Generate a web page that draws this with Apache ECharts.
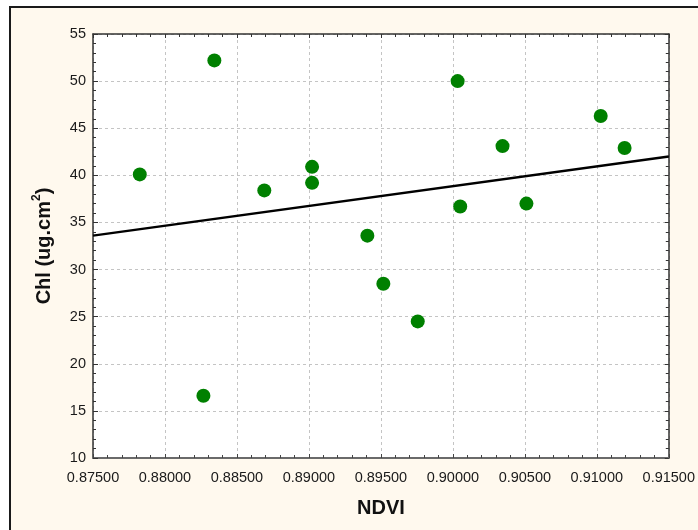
<!DOCTYPE html>
<html>
<head>
<meta charset="utf-8">
<script src="https://cdn.jsdelivr.net/npm/echarts@6/dist/echarts.min.js"></script>
<style>
html,body{margin:0;padding:0;background:#ffffff;}
#chart{width:698px;height:530px;}
</style>
</head>
<body>
<div id="chart"></div>
<script>
// Data
const ndvi = [0.87825, 0.88267, 0.88343, 0.88690, 0.89022, 0.89022, 0.89406, 0.89517, 0.89756, 0.90033, 0.90051, 0.90345, 0.90511, 0.91027, 0.91193];
const chl  = [40.1,    16.6,    52.2,    38.4,    40.9,    39.2,    33.6,    28.5,    24.5,    50.0,    36.7,    43.1,    37.0,    46.3,    42.9];
// Fitted regression line (end points)
const fitX = [0.875, 0.915];
const fitY = [33.6, 42.0];

const xMin = 0.875, xMax = 0.915, xStep = 0.005;
const yMin = 10, yMax = 55, yStep = 5;

const points = ndvi.map((x, i) => [x, chl[i]]);
const fitLine = fitX.map((x, i) => [x, fitY[i]]);

const chart = echarts.init(document.getElementById('chart'), null, {renderer: 'canvas'});
const font = '"Liberation Sans", Arial, sans-serif';
const gridLine = {show: true, lineStyle: {color: '#c4c4c4', width: 1, type: [3, 3]}};

const mirrorX = {
  type: 'value', position: 'top', min: xMin, max: xMax, interval: xStep,
  axisLine: {show: true, onZero: false, lineStyle: {color: '#333', width: 1.5}},
  axisTick: {show: true, inside: true, length: 4, lineStyle: {color: '#333'}},
  minorTick: {show: true, splitNumber: 5, length: 3, lineStyle: {color: '#333'}},
  axisLabel: {show: false}, splitLine: {show: false}
};
const mirrorY = {
  type: 'value', position: 'right', min: yMin, max: yMax, interval: yStep,
  axisLine: {show: true, onZero: false, lineStyle: {color: '#333', width: 1.5}},
  axisTick: {show: true, inside: true, length: 4, lineStyle: {color: '#333'}},
  minorTick: {show: true, splitNumber: 5, length: 3, lineStyle: {color: '#333'}},
  axisLabel: {show: false}, splitLine: {show: false}
};

chart.setOption({
  animation: false,
  backgroundColor: 'transparent',
  textStyle: {fontFamily: font},
  graphic: [{
    type: 'rect', z: -100, silent: true,
    shape: {x: 10, y: 7, width: 720, height: 560},
    style: {fill: '#fff9ee', stroke: '#1a1a1a', lineWidth: 2}
  }],
  grid: {
    left: 93, top: 34, right: 26, bottom: 72,
    show: true, backgroundColor: '#ffffff', borderWidth: 0
  },
  xAxis: [{
    type: 'value', position: 'bottom', min: xMin, max: xMax, interval: xStep,
    name: 'NDVI', nameLocation: 'middle', nameGap: 40,
    nameTextStyle: {fontSize: 20, fontWeight: 'bold', color: '#111', fontFamily: font},
    axisLine: {show: true, onZero: false, lineStyle: {color: '#6a6a6a', width: 2}},
    axisTick: {show: true, inside: true, length: 4, lineStyle: {color: '#444'}},
    minorTick: {show: true, splitNumber: 5, length: 3, lineStyle: {color: '#444'}},
    axisLabel: {fontSize: 14.5, color: '#1a1a1a', margin: 12, fontFamily: font,
      showMinLabel: true, showMaxLabel: true,
      formatter: v => v.toFixed(5)},
    splitLine: gridLine
  }, mirrorX],
  yAxis: [{
    type: 'value', position: 'left', min: yMin, max: yMax, interval: yStep,
    name: 'Chl (ug.cm{s|2})', nameLocation: 'middle', nameGap: 36, nameRotate: 90,
    nameTextStyle: {fontSize: 20, fontWeight: 'bold', color: '#111', fontFamily: font, lineHeight: 26,
      rich: {s: {fontSize: 12, fontWeight: 'bold', color: '#111', fontFamily: font, verticalAlign: 'top', lineHeight: 12}}},
    axisLine: {show: true, onZero: false, lineStyle: {color: '#333', width: 1.5}},
    axisTick: {show: true, inside: true, length: 5, lineStyle: {color: '#333'}},
    minorTick: {show: true, splitNumber: 5, length: 3, lineStyle: {color: '#333'}},
    axisLabel: {fontSize: 14.5, color: '#1a1a1a', margin: 7, fontFamily: font},
    splitLine: gridLine
  }, mirrorY],
  series: [{
    type: 'line', data: fitLine, symbol: 'none', z: 2,
    lineStyle: {color: '#000', width: 2.5}, silent: true
  }, {
    type: 'scatter', data: points, symbol: 'circle', symbolSize: 14, z: 3,
    itemStyle: {color: '#008000', opacity: 1}
  }]
});
</script>
</body>
</html>
